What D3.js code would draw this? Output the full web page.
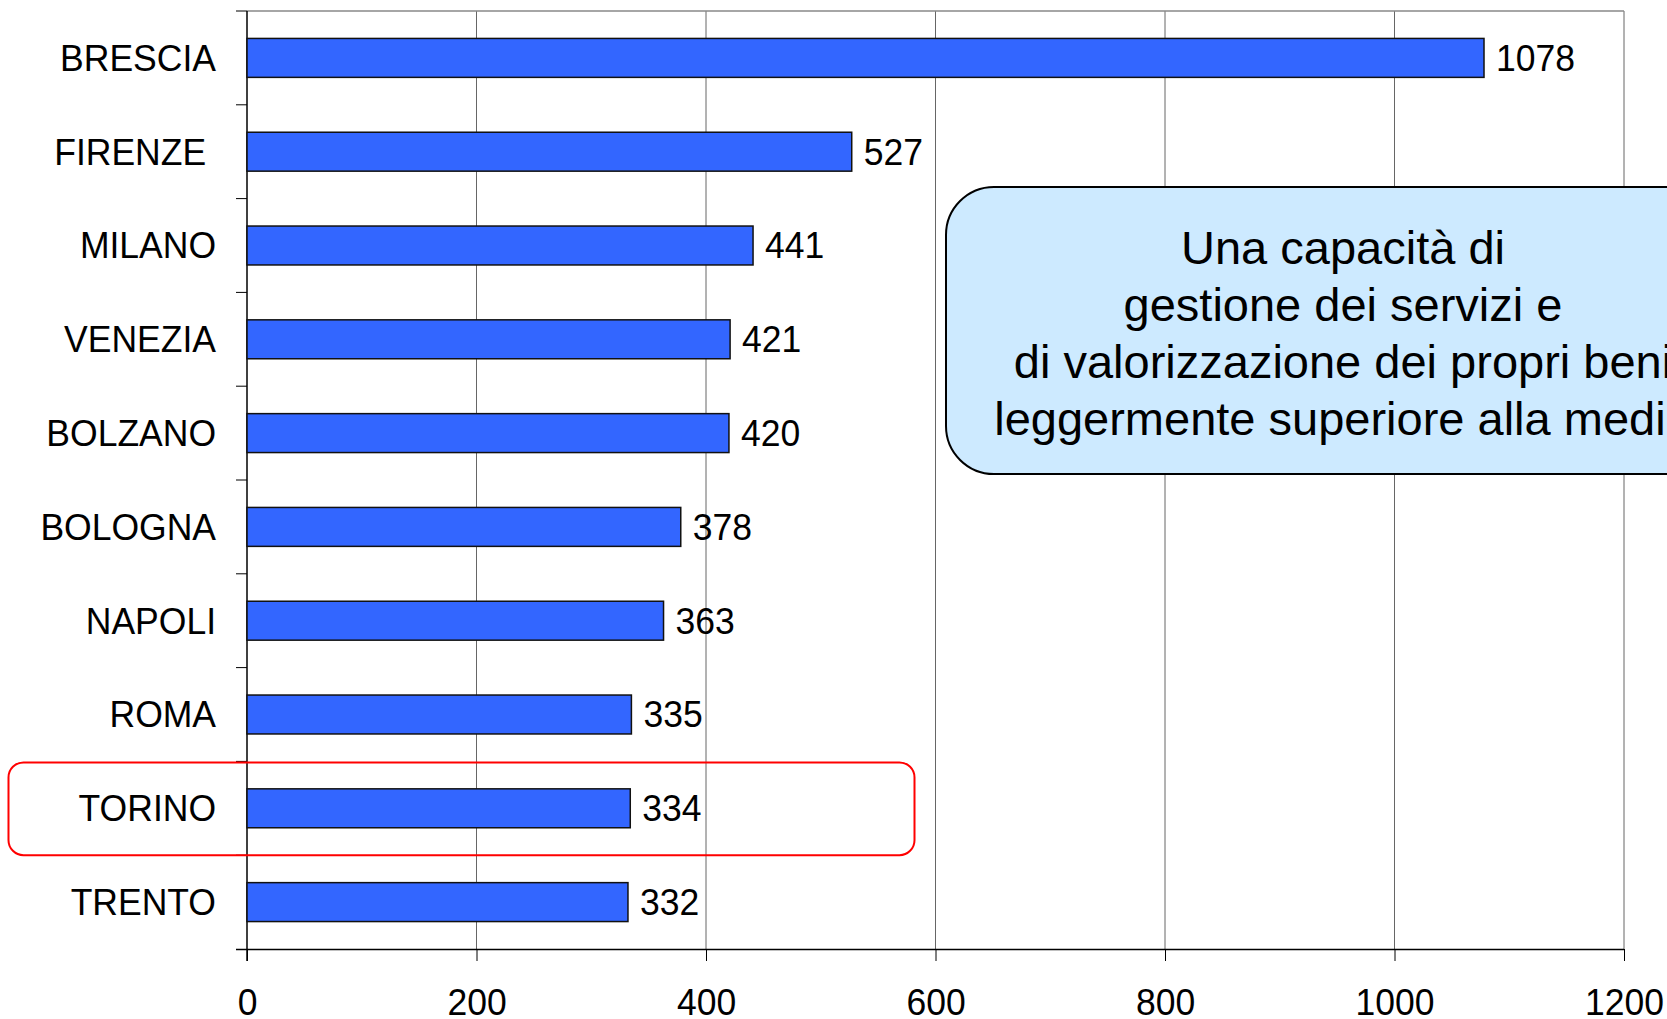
<!DOCTYPE html>
<html>
<head>
<meta charset="utf-8">
<script src="https://cdn.jsdelivr.net/npm/d3@7"></script>
<style>
  body { margin: 0; background: #fff; }
  svg { display: block; font-family: "Liberation Sans", Arial, sans-serif; }
</style>
</head>
<body>
<div id="chart"></div>
<script>
var svgWidth = 1667;
var svgHeight = 1019;

var cities = ["BRESCIA", "FIRENZE ", "MILANO", "VENEZIA", "BOLZANO", "BOLOGNA", "NAPOLI", "ROMA", "TORINO", "TRENTO"];
var values = [1078, 527, 441, 421, 420, 378, 363, 335, 334, 332];
var xTicks = [0, 200, 400, 600, 800, 1000, 1200];
var noteLines = ["Una capacità di", "gestione dei servizi e", "di valorizzazione dei propri beni", "leggermente superiore alla media"];
var highlight = "TORINO";

var plot = { left: 247, right: 1624, top: 11, bottom: 949 };
var squeeze = 0.96; // labels in the original are a bit narrow

var svg = d3.select("#chart")
    .append("svg")
    .attr("width", svgWidth)
    .attr("height", svgHeight);

var x = d3.scaleLinear()
    .domain([0, 1200])
    .range([plot.left, plot.right]);

var y = d3.scaleBand()
    .domain(cities)
    .range([plot.top, plot.bottom])
    .padding(0);

var barH = y.bandwidth() * 0.415;

// gridlines + frame
svg.append("g")
    .selectAll("line")
    .data(xTicks.slice(1))
    .enter()
    .append("line")
    .attr("x1", d => x(d))
    .attr("x2", d => x(d))
    .attr("y1", plot.top)
    .attr("y2", plot.bottom)
    .attr("stroke", "#666")
    .attr("stroke-width", 1);

svg.append("line")
    .attr("x1", plot.left).attr("x2", plot.right)
    .attr("y1", plot.top).attr("y2", plot.top)
    .attr("stroke", "#888").attr("stroke-width", 1.5);

// bottom axis
var bottomAxis = d3.axisBottom(x)
    .tickValues(xTicks)
    .tickFormat(d3.format("d"))
    .tickSize(12)
    .tickPadding(28);

var xAxis = svg.append("g")
    .attr("transform", `translate(0, ${plot.bottom})`)
    .call(bottomAxis);

xAxis.select(".domain")
    .attr("stroke", "#000")
    .attr("stroke-width", 1.5)
    .attr("d", `M${plot.left - 11},0.5H${plot.right}`);
xAxis.selectAll(".tick line").attr("stroke", "#000").attr("stroke-width", 1);
xAxis.selectAll(".tick text")
    .attr("fill", "#000")
    .attr("font-size", "37px")
    .attr("font-family", "Liberation Sans, Arial, sans-serif")
    .attr("dy", "0.71em")
    .attr("transform", `scale(${squeeze},1)`)
    .attr("x", 0);

// left axis (ticks at band boundaries)
svg.append("line")
    .attr("x1", plot.left).attr("x2", plot.left)
    .attr("y1", plot.top).attr("y2", plot.bottom + 12)
    .attr("stroke", "#000").attr("stroke-width", 1.5);

svg.append("g")
    .selectAll("line")
    .data(cities)
    .enter()
    .append("line")
    .attr("x1", plot.left - 11)
    .attr("x2", plot.left)
    .attr("y1", d => y(d))
    .attr("y2", d => y(d))
    .attr("stroke", "#000")
    .attr("stroke-width", 1);

svg.append("g")
    .selectAll("text")
    .data(cities)
    .enter()
    .append("text")
    .attr("transform", d => `translate(${plot.left - 31}, ${y(d) + y.bandwidth() / 2}) scale(${squeeze},1)`)
    .attr("dy", "0.35em")
    .attr("text-anchor", "end")
    .attr("font-size", "37px")
    .style("white-space", "pre")
    .text(d => d);

// bars
svg.append("g")
    .selectAll("rect")
    .data(values)
    .enter()
    .append("rect")
    .attr("x", x(0))
    .attr("y", (d, i) => y(cities[i]) + (y.bandwidth() - barH) / 2)
    .attr("width", d => x(d) - x(0))
    .attr("height", barH)
    .attr("fill", "#3366ff")
    .attr("stroke", "#111")
    .attr("stroke-width", 1.5);

// value labels
svg.append("g")
    .selectAll("text")
    .data(values)
    .enter()
    .append("text")
    .attr("transform", (d, i) => `translate(${x(d) + 12}, ${y(cities[i]) + y.bandwidth() / 2}) scale(${squeeze},1)`)
    .attr("dy", "0.35em")
    .attr("font-size", "37px")
    .text(d => d);

// highlight around TORINO
svg.append("rect")
    .attr("x", 8.5)
    .attr("y", y(highlight) + 1)
    .attr("width", 906)
    .attr("height", y.bandwidth() - 1)
    .attr("rx", 15)
    .attr("fill", "none")
    .attr("stroke", "#ff0000")
    .attr("stroke-width", 2);

// note box
var note = svg.append("g");
note.append("rect")
    .attr("x", 946)
    .attr("y", 187)
    .attr("width", 800)
    .attr("height", 287)
    .attr("rx", 48)
    .attr("fill", "#cdeaff")
    .attr("stroke", "#000")
    .attr("stroke-width", 2);

note.selectAll("text")
    .data(noteLines)
    .enter()
    .append("text")
    .attr("x", 1343)
    .attr("y", (d, i) => 264 + i * 57)
    .attr("text-anchor", "middle")
    .attr("font-size", "47px")
    .attr("fill", "#000")
    .text(d => d);
</script>
</body>
</html>
